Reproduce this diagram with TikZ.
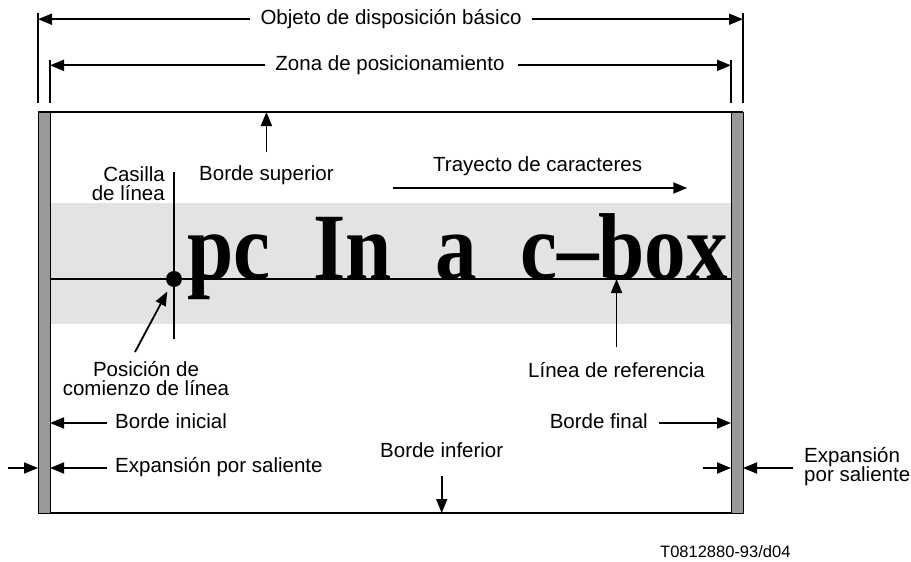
\documentclass[tikz,border=0pt]{standalone}
\usepackage{fontspec}
\setmainfont{Liberation Sans}
\newfontfamily\boxfont{Liberation Serif}
\usetikzlibrary{calc}
\usetikzlibrary{arrows.meta,positioning}
\tikzset{
  lbl/.style={font=\fontsize{20.5}{19.5}\selectfont,inner sep=0pt},
  thick line/.style={line width=1.8pt},
  pfeil/.style={line width=1.8pt,-{Triangle[length=14pt,width=11pt]}},
  bar/.style={fill=black!40,draw=black,line width=0.8pt},
  glyph/.style={inner sep=0pt,anchor=base west,font=\boxfont\bfseries\fontsize{95}{95}\selectfont},
}
\newcommand{\narrow}[1]{\scalebox{0.875}[1]{#1}}

\begin{document}
\begin{tikzpicture}[x=1pt,y=-1pt]
    \useasboundingbox (0,0) rectangle (911,562);
    \coordinate (TL) at (38,112);
    \coordinate (TR) at (743,112);
    \coordinate (BL) at (38,513);
    \coordinate (BR) at (743,513);
    \coordinate (IL) at (50,112);
    \coordinate (IR) at (731,112);
    \coordinate (Ref) at (50,279);
    \coordinate (RefEnd) at (731,279);
    \coordinate (Start) at (174,279);
    \coordinate (OutL) at (8,468);
    \coordinate (OutR) at (703,468);
    \coordinate (OutRR) at (793,468);
    % frame
    \fill [black!11] (50,203) rectangle (731,324);
    \draw [thick line] (TL)--(TR);
    \draw [thick line] ($(BL)+(7,0)$)--(BR);
    \draw [bar] (TL) rectangle ($(IL)+(0,401)$);
    \draw [bar] (IR) rectangle (BR);
    \draw [line width=1.2pt] (Ref)--(RefEnd);
    \draw [line width=1.2pt] ($(Start)+(0,-107)$)--($(Start)+(0,60)$);
    % dimension ticks
    \draw [thick line] ($(TL)+(0,-99)$)--($(TL)+(0,-9)$);
    \draw [thick line] ($(TR)+(0,-99)$)--($(TR)+(0,-9)$);
    \draw [thick line] ($(IL)+(0,-52)$)--($(IL)+(0,-9)$);
    \draw [thick line] ($(IR)+(0,-52)$)--($(IR)+(0,-9)$);
    % the c-boxes
    \node[glyph] (pc) at (187,279) {\narrow{pc}};
    \node[glyph] (In) at (313,279) {\narrow{In}};
    \node[glyph] (a) at (435,279) {\narrow{a}};
    \node[glyph] (cbox) at (520,279) {\narrow{c\textendash box}};
    \node[fill=black,circle,inner sep=0pt,minimum size=16pt] (dot) at (Start) {};
    % labels
    \node[lbl,anchor=mid] (obj) at (391,22) {Objeto de disposición básico};
    \node[lbl,anchor=mid] (zona) at (390,68) {Zona de posicionamiento};
    \node[lbl,anchor=base west] (sup) at (199,180) {Borde superior};
    \node[lbl,anchor=north east,align=right] (cas) at (165,166) {Casilla\\de línea};
    \node[lbl,anchor=base west] (tray) at (433,171) {Trayecto de caracteres};
    \node[lbl,anchor=north,align=center] (pos) at (146,361) {Posición de\\comienzo de línea};
    \node[lbl,anchor=base west] (lref) at (528,377) {Línea de referencia};
    \node[lbl,anchor=base west] (ini) at (115,428) {Borde inicial};
    \node[lbl,anchor=base west] (expl) at (115,472) {Expansión por saliente};
    \node[lbl,anchor=base west] (inf) at (380,457) {Borde inferior};
    \node[lbl,anchor=base east] (fin) at (648,428) {Borde final};
    \node[lbl,anchor=north west,align=left] (expr) at (804,447) {Expansión\\por saliente};
    \node[inner sep=0pt,anchor=base west,font=\fontsize{16.5}{16}\selectfont] (fig) at (660,557) {T0812880-93/d04};
    % arrows
    \draw [pfeil] ([xshift=-10pt]obj.west)--(obj.west -| TL);
    \draw [pfeil] ([xshift=10pt]obj.east)--(obj.east -| TR);
    \draw [pfeil] ([xshift=-10pt]zona.west)--(zona.west -| IL);
    \draw [pfeil] ([xshift=13pt]zona.east)--(zona.east -| IR);
    \draw [pfeil] ([yshift=28pt]sup.base)--(sup.base |- TL);
    \draw [pfeil] ([xshift=-40pt,yshift=-17pt]tray.base west)--([xshift=45pt,yshift=-17pt]tray.base east);
    \draw [pfeil,shorten >=6pt] ([shift={(-11pt,9pt)}]pos.north)--(dot);
    \draw [pfeil] ([yshift=30pt]lref.base)--(lref.base |- RefEnd);
    \draw [pfeil] ([xshift=-8pt,yshift=5pt]ini.base west) coordinate (p1)--(p1 -| IL);
    \draw [pfeil] ([xshift=-8pt,yshift=4pt]expl.base west) coordinate (p2)--(p2 -| IL);
    \draw [pfeil] (OutL)--(OutL -| TL);
    \draw [pfeil] ([yshift=-19pt]inf.base)--(inf.base |- BL);
    \draw [pfeil] ([xshift=11pt,yshift=5pt]fin.base east) coordinate (p3)--(p3 -| IR);
    \draw [pfeil] (OutR)--(OutR -| IR);
    \draw [pfeil] (OutRR)--(OutRR -| TR);
\end{tikzpicture}
\end{document}
